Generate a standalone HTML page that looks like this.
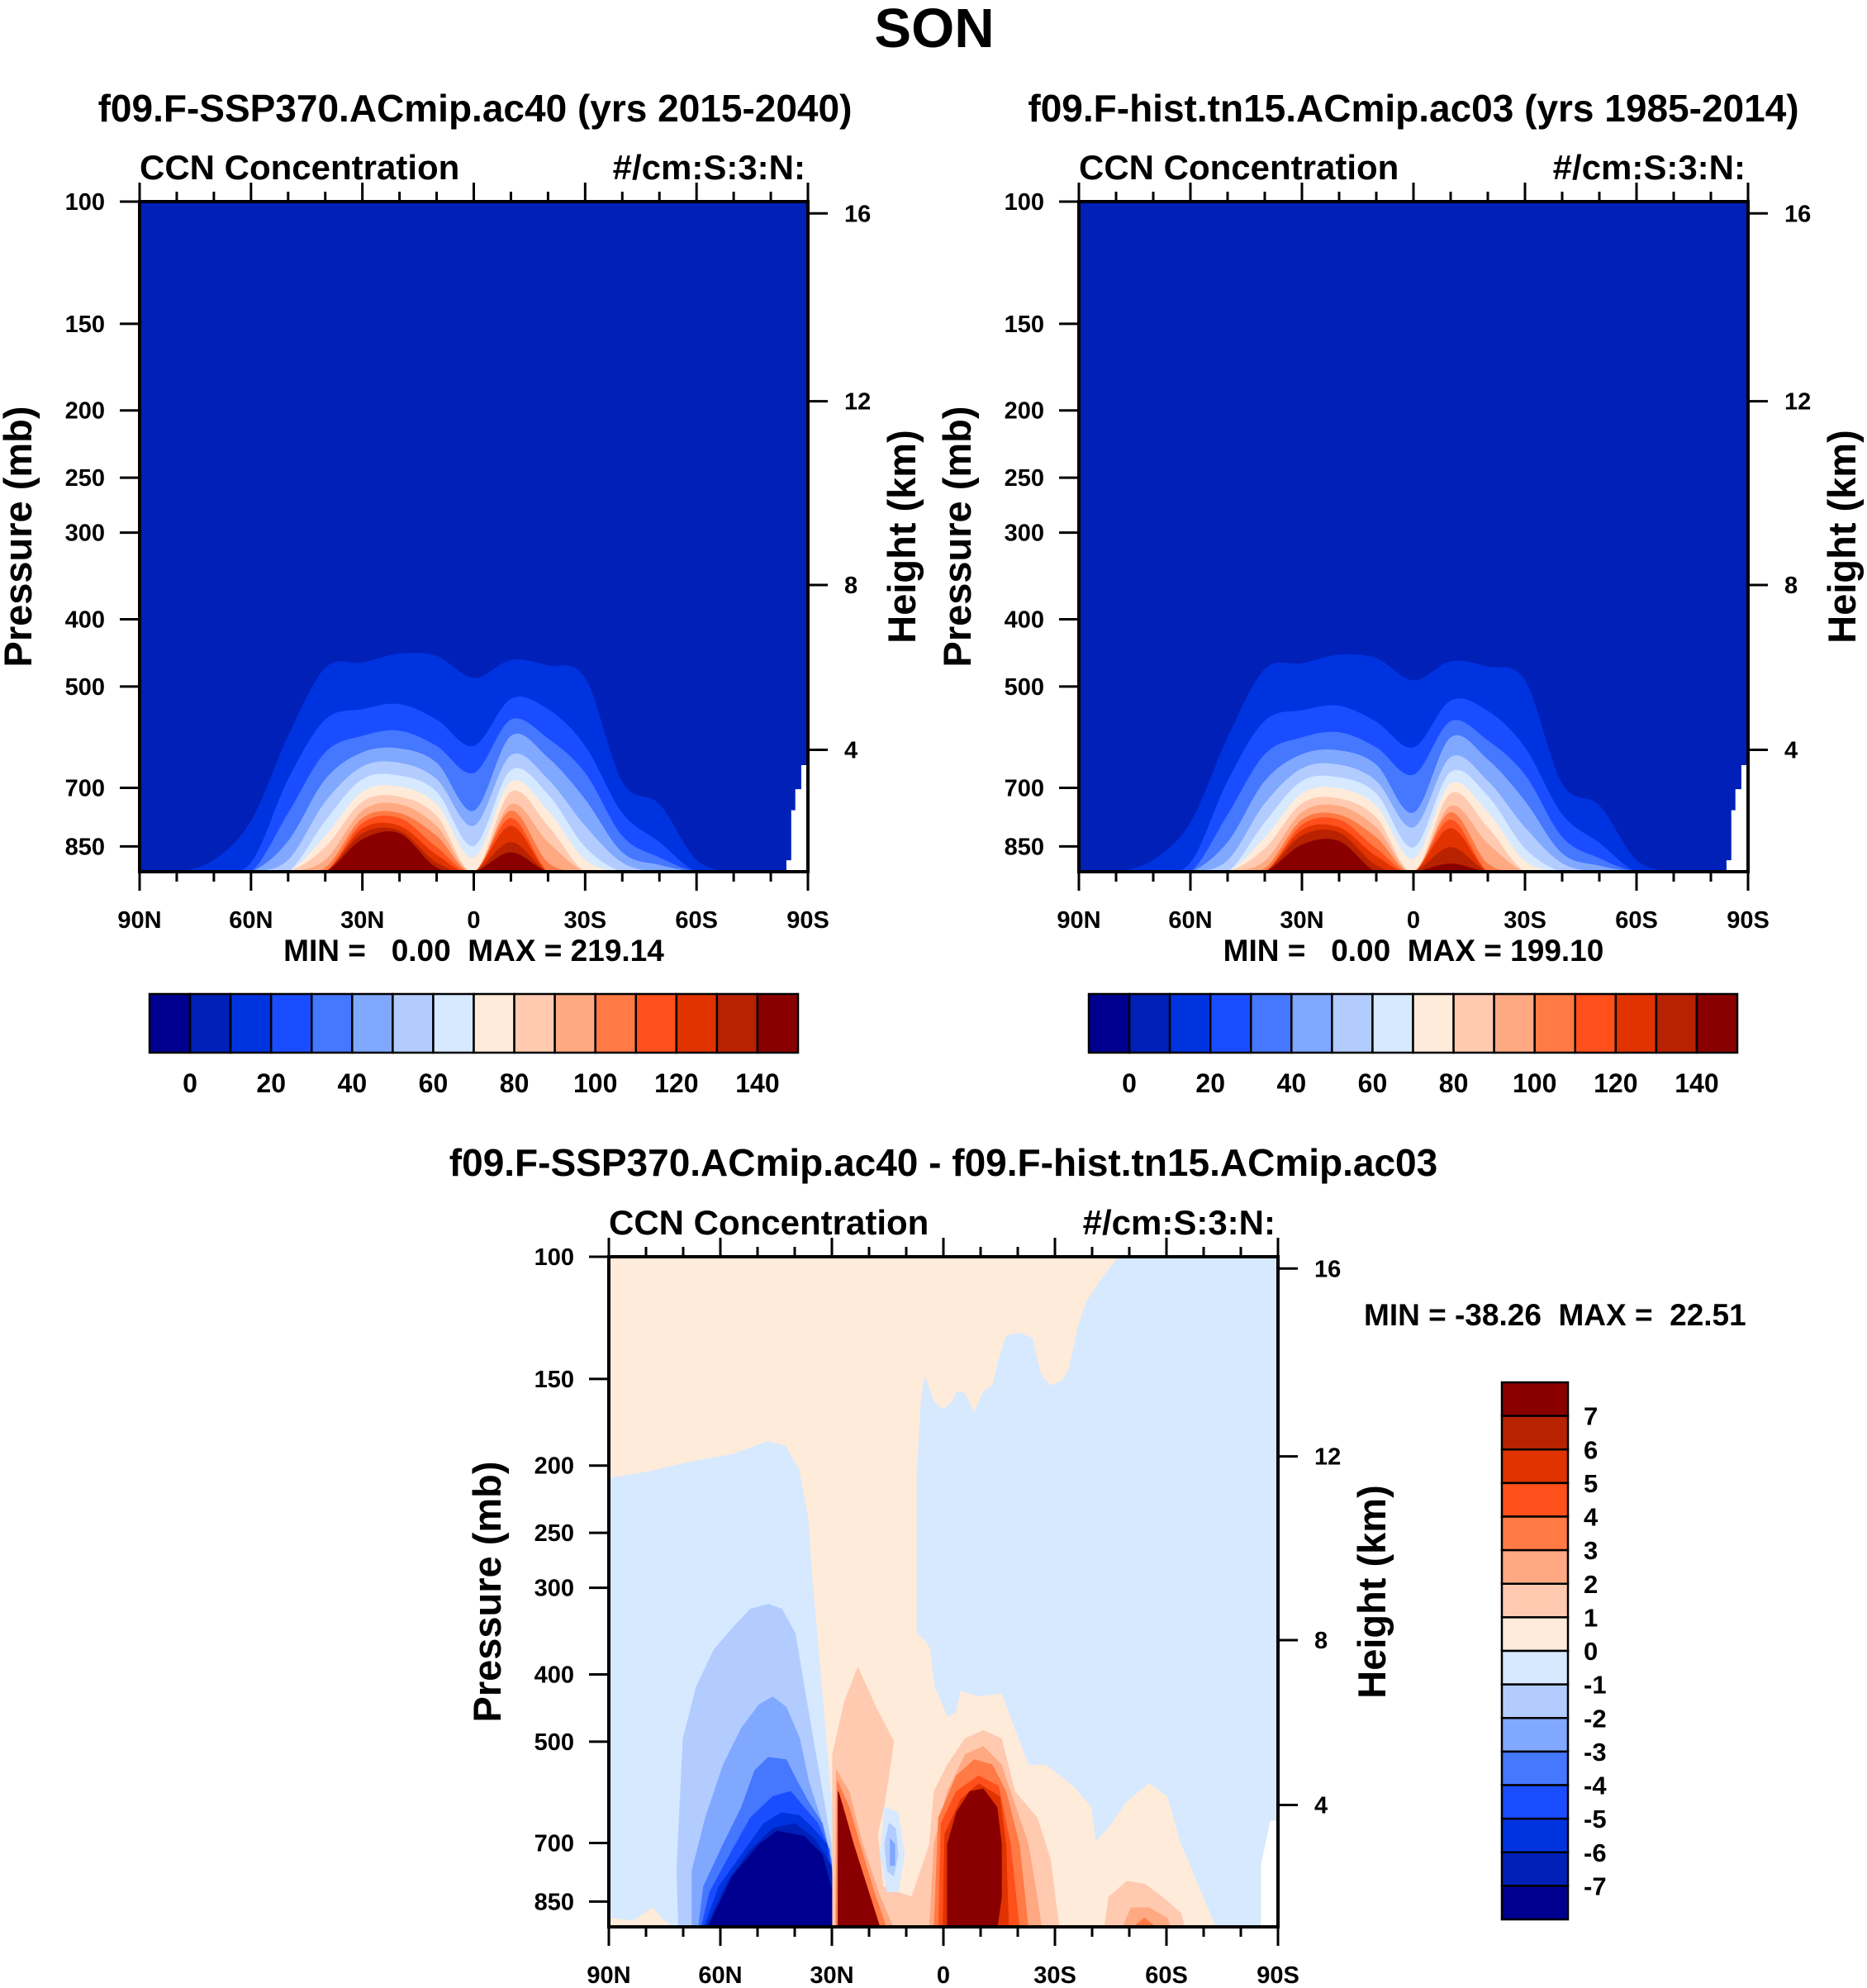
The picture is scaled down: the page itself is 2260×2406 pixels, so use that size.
<!DOCTYPE html>
<html><head><meta charset="utf-8"><style>
html,body{margin:0;padding:0;background:#fff;}
svg text{font-family:"Liberation Sans",sans-serif;font-weight:bold;fill:#000;white-space:pre;}
</style></head><body>
<svg id="fig" width="2260" height="2401" viewBox="0 0 2260 2401" xmlns="http://www.w3.org/2000/svg">
<text x="1131" y="57" font-size="67" text-anchor="middle">SON</text>
<text x="575" y="147" font-size="46" text-anchor="middle">f09.F-SSP370.ACmip.ac40 (yrs 2015-2040)</text>
<text x="1711" y="147" font-size="46" text-anchor="middle">f09.F-hist.tn15.ACmip.ac03 (yrs 1985-2014)</text>
<text x="1142" y="1423" font-size="46" text-anchor="middle">f09.F-SSP370.ACmip.ac40 - f09.F-hist.tn15.ACmip.ac03</text>
<g id="layer"></g>
</svg>
<script>
const NS="http://www.w3.org/2000/svg";
const N=925;
const latGrid=[90,80,70,60,50,40,30,20,10,0,-10,-20,-30,-40,-50,-60,-70,-80,-90];
const pTicks=[100,150,200,250,300,400,500,700,850];
const zTicks=[4,8,12,16];
const zTickP=[617,357,194,104];
const latTicks=[90,60,30,0,-30,-60,-90];
const latTickLabels=["90N","60N","30N","0","30S","60S","90S"];
const absColors=["#000090","#0020b8","#0033e0","#1a4dff","#4577ff","#80a8ff","#b3ccff","#d6e9ff","#ffebd9","#ffcab0","#ffa983","#ff7a45","#ff4f1a","#e03300","#b82200","#8a0000"];
const absLabels=["0","20","40","60","80","100","120","140"];
const diffLabels=["7","6","5","4","3","2","1","0","-1","-2","-3","-4","-5","-6","-7"];
const lev1=[
[N,N,889,781,589,470,462,448,452,486,458,466,486,686,739,889,N,N,N],
[N,N,N,897,680,558,539,530,558,609,521,539,609,761,838,N,N,N,N],
[N,N,N,N,761,622,589,579,609,666,558,594,666,821,882,N,N,N,N],
[N,N,N,N,835,680,622,614,644,755,589,633,727,867,904,N,N,N,N],
[N,N,N,N,889,733,652,644,680,794,628,680,794,897,N,N,N,N,N],
[N,N,N,N,N,781,680,672,709,849,660,715,852,N,N,N,N,N,N],
[N,N,N,N,N,821,709,697,739,882,686,755,889,N,N,N,N,N,N],
[N,N,N,N,N,852,733,721,768,N,709,794,N,N,N,N,N,N,N],
[N,N,N,N,N,889,755,739,794,N,739,838,N,N,N,N,N,N,N],
[N,N,N,N,N,912,774,761,821,N,755,897,N,N,N,N,N,N,N],
[N,N,N,N,N,N,787,774,852,N,774,N,N,N,N,N,N,N,N],
[N,N,N,N,N,N,801,794,874,N,794,N,N,N,N,N,N,N,N],
[N,N,N,N,N,N,814,807,897,N,838,N,N,N,N,N,N,N,N],
[N,N,N,N,N,N,830,814,912,N,867,N,N,N,N,N,N,N,N]];
const lev2=[
[N,N,889,785,592,472,463,450,455,490,460,468,490,690,742,889,N,N,N],
[N,N,N,897,684,560,541,533,562,612,524,542,612,764,840,N,N,N,N],
[N,N,N,N,765,626,592,582,612,670,561,598,670,824,884,N,N,N,N],
[N,N,N,N,838,684,626,618,648,760,592,637,731,870,906,N,N,N,N],
[N,N,N,N,890,737,656,648,684,798,632,684,798,899,N,N,N,N,N],
[N,N,N,N,N,785,684,676,713,853,664,719,856,N,N,N,N,N,N],
[N,N,N,N,N,825,713,701,743,885,690,759,892,N,N,N,N,N,N],
[N,N,N,N,N,856,737,725,772,N,713,798,N,N,N,N,N,N,N],
[N,N,N,N,N,892,759,743,798,N,743,842,N,N,N,N,N,N,N],
[N,N,N,N,N,914,778,765,825,N,759,900,N,N,N,N,N,N,N],
[N,N,N,N,N,N,791,778,856,N,778,N,N,N,N,N,N,N,N],
[N,N,N,N,N,N,805,798,878,N,800,N,N,N,N,N,N,N,N],
[N,N,N,N,N,N,820,812,905,N,852,N,N,N,N,N,N,N,N],
[N,N,N,N,N,N,845,835,N,N,900,N,N,N,N,N,N,N,N]];
const missingPoly=[[-84.2,930],[-84.2,890],[-85.5,890],[-85.5,754],[-86.6,754],[-86.6,703],[-88.2,703],[-88.2,649],[-90,649],[-90,930]];
const diffRegions=[
[8,[[90,100],[-46.9,100],[-43.3,105.9],[-38.4,115.7],[-36,126.3],[-33.6,145.3],[-31.9,150.4],[-28.8,153.1],[-26.4,147.8],[-24,130.7],[-20.4,128.5],[-16.8,129.6],[-14.4,142.7],[-13.1,153.1],[-10.7,155.8],[-8.3,167.1],[-5.9,157.2],[-3.5,155.8],[-2.3,161.4],[0.1,165.7],[2.5,161.4],[4.9,147.8],[6.1,158.5],[7.3,206.2],[7.3,348.8],[4.9,358.1],[3.7,367.6],[2.5,415.6],[-1.1,461.8],[-3.5,453.6],[-4.7,423.1],[-9.5,430.6],[-15.6,426.8],[-18,461.8],[-22.8,540.5],[-27.6,540.5],[-34.8,579.9],[-39.7,622],[-40.9,697],[-44.5,667],[-49.3,611],[-55.3,575],[-60.1,600],[-63.8,703],[-68.6,809],[-72.2,898],[-73.4,930],[28.3,930],[29,703],[30.2,590],[31.4,495],[32.6,415.6],[33.8,348.8],[35.1,292.7],[36.3,237.2],[38.7,202.6],[42.3,187.3],[47.1,184.1],[56.7,192.2],[66.4,196.3],[80.8,204.4],[90,208]]],
[8,[[90,930],[90,898],[83.3,907],[78.4,868],[76,898],[72.4,930]]],
[6,[[71.2,930],[71.7,767],[70,495],[66.4,416],[61.6,368],[56.7,343],[51.9,322],[47.1,317],[43.5,322],[39.9,349],[37.5,416],[35.1,495],[32.6,590],[30.2,703],[28.8,930]]],
[5,[[67.6,930],[67.6,767],[64,644],[59.2,540],[54.3,478],[49.5,442],[45.9,431],[42.3,446],[38.7,495],[36.3,570],[33.1,644],[30.7,741],[28.8,930]]],
[4,[[65.9,930],[64.5,809],[59.2,703],[54.3,622],[50.7,550],[47.1,527],[42.3,531],[39.4,570],[36.3,611],[32.6,656],[30.2,741],[28.8,930]]],
[3,[[65.2,930],[62.8,823],[56.7,716],[51.9,644],[45.9,600],[41.1,590],[37.5,622],[33.8,656],[30.7,716],[28.8,930]]],
[2,[[64.5,930],[60.4,809],[54.3,728],[48.3,656],[43.5,633],[38.7,639],[35.1,667],[31.4,703],[29,930]]],
[1,[[64,930],[58,795],[51.9,716],[45.9,667],[39.9,656],[34.6,691],[30.2,754],[29,930]]],
[0,[[63.5,930],[56.7,781],[49.5,703],[44.7,673],[37.5,685],[32.6,728],[29.5,838],[29,930]]],
[9,[[29.8,930],[29.8,522],[26.6,438],[23,391],[18.2,446],[13.4,500],[15.8,611],[17.7,679],[16.3,809],[8.5,838],[3.7,703],[2.5,590],[-1.1,540],[-5.9,495],[-10.7,482],[-15.6,495],[-19.2,590],[-25.2,644],[-28.8,741],[-30,838],[-31.2,930]]],
[10,[[29,930],[28.8,550],[25.4,590],[21.8,703],[17,838],[13.4,930]]],
[10,[[3.7,930],[2.5,703],[-1.1,590],[-5.9,522],[-10.7,508],[-15.6,540],[-18,590],[-22.8,703],[-25.2,838],[-26.4,930]]],
[11,[[2.5,930],[1.3,644],[-3.5,560],[-8.3,531],[-13.1,540],[-16.8,590],[-20.4,703],[-22.8,930]]],
[12,[[1.3,930],[0.6,656],[-3.5,590],[-9.5,560],[-14.8,580],[-18,703],[-20.4,930]]],
[13,[[0.1,930],[-0.4,679],[-4.7,606],[-9.5,575],[-15.1,600],[-16.8,703],[-17.5,930]]],
[15,[[-1.1,930],[-1.1,703],[-3.5,633],[-7.1,590],[-10.7,585],[-14.4,622],[-15.6,703],[-15.6,838],[-14.4,930]]],
[11,[[28.8,930],[28.5,570],[25.4,622],[22.5,703],[18.7,823],[15.3,930]]],
[15,[[28.3,930],[28.3,590],[26.6,633],[24.2,703],[20.6,809],[17,930]]],
[7,[[15.8,622],[12.2,633],[10.5,728],[12.2,823],[15.1,823],[17,728]]],
[6,[[14.6,656],[12.9,667],[12.2,728],[13.4,781],[15.1,767],[15.8,703]]],
[5,[[14.3,691],[13.1,703],[13.1,754],[14.3,754]]],
[9,[[-43.3,930],[-44.5,838],[-49.3,795],[-54.1,802],[-58.9,838],[-63.8,883],[-65,930]]],
[10,[[-48.1,930],[-50.5,868],[-55.3,868],[-60.1,898],[-61.3,930]]],
[11,[[-50.5,930],[-54.1,898],[-57.7,930]]]];
const diffMissing=[[-85.4,930],[-85.4,754],[-86.6,703],[-87.9,650],[-90,650],[-90,930]];

const layer=document.getElementById('layer');
function mk(tag,attrs,parent){const e=document.createElementNS(NS,tag);for(const k in attrs)e.setAttribute(k,attrs[k]);(parent||layer).appendChild(e);return e;}
const PB=924.6;
function axes(g){
  return {x:lat=>g.x0+(90-lat)/180*(g.x1-g.x0),
          y:p=>g.y0+(Math.log10(p)-2)/(Math.log10(PB)-2)*(g.y1-g.y0)};
}
function smoothTop(ax,arr){
  const pts=latGrid.map((l,i)=>[ax.x(l),ax.y(arr[i])]);
  let d="M"+pts[0][0]+","+pts[0][1];
  for(let i=0;i<pts.length-1;i++){
    const p0=pts[Math.max(0,i-1)],p1=pts[i],p2=pts[i+1],p3=pts[Math.min(pts.length-1,i+2)];
    const c1=[p1[0]+(p2[0]-p0[0])/6,p1[1]+(p2[1]-p0[1])/6];
    const c2=[p2[0]-(p3[0]-p1[0])/6,p2[1]-(p3[1]-p1[1])/6];
    d+=" C"+c1[0]+","+c1[1]+" "+c2[0]+","+c2[1]+" "+p2[0]+","+p2[1];
  }
  d+=" L"+pts[pts.length-1][0]+","+(ax.y(PB)+20)+" L"+pts[0][0]+","+(ax.y(PB)+20)+" Z";
  return d;
}
function polyD(ax,pts){return "M"+pts.map(q=>ax.x(q[0])+","+ax.y(q[1])).join(" L")+" Z";}

function frame(g,name,clipId,fillFn){
  const ax=axes(g);
  const defs=mk('defs',{});
  const cp=mk('clipPath',{id:clipId},defs);
  mk('rect',{x:g.x0,y:g.y0,width:g.x1-g.x0,height:g.y1-g.y0},cp);
  const grp=mk('g',{'clip-path':'url(#'+clipId+')'});
  
  
  fillFn(ax,grp);
  const border=mk('rect',{x:g.x0,y:g.y0,width:g.x1-g.x0,height:g.y1-g.y0,fill:'none',stroke:'#000','stroke-width':4});
  
  
  for(let lat=90;lat>=-90;lat-=10){
    const x=ax.x(lat);const major=lat%30===0;const L=major?23:12;
    mk('line',{x1:x,x2:x,y1:g.y1,y2:g.y1+L,stroke:'#000','stroke-width':3});
    mk('line',{x1:x,x2:x,y1:g.y0,y2:g.y0-L,stroke:'#000','stroke-width':3});
  }
  latTicks.forEach((lat,i)=>{
    const t=mk('text',{x:ax.x(lat),y:g.y1+68,'font-size':29,'text-anchor':'middle'});
    t.textContent=latTickLabels[i];
    
    
  });
  pTicks.forEach(p=>{
    const y=ax.y(p);
    mk('line',{x1:g.x0-24,x2:g.x0,y1:y,y2:y,stroke:'#000','stroke-width':3});
    const t=mk('text',{x:g.x0-42,y:y+10,'font-size':29,'text-anchor':'end'});
    t.textContent=p;
    
    
  });
  zTicks.forEach((z,i)=>{
    const y=ax.y(zTickP[i]);
    mk('line',{x1:g.x1,x2:g.x1+24,y1:y,y2:y,stroke:'#000','stroke-width':3});
    const t=mk('text',{x:g.x1+44,y:y+10,'font-size':29});
    t.textContent=z;
    
    
  });
  const cx=(g.y0+g.y1)/2;
  const yl=mk('text',{x:0,y:0,'font-size':47,'text-anchor':'middle',transform:'translate('+(g.x0-131)+','+cx+') rotate(-90)'});
  yl.textContent='Pressure (mb)';
  
  
  const hl=mk('text',{x:0,y:0,'font-size':47,'text-anchor':'middle',transform:'translate('+(g.x1+130)+','+cx+') rotate(-90)'});
  hl.textContent='Height (km)';
  
  
  const l1=mk('text',{x:g.x0,y:g.y0-27,'font-size':42});
  l1.textContent='CCN Concentration';
  
  
  const l2=mk('text',{x:g.x1-3,y:g.y0-27,'font-size':42,'text-anchor':'end'});
  l2.textContent='#/cm:S:3:N:';
  
  
  return ax;
}
function absPanel(g,name,lev,minmax,cbx){
  frame(g,name,name+'-clip',(ax,grp)=>{
    const bg=mk('rect',{x:g.x0,y:g.y0,width:g.x1-g.x0,height:g.y1-g.y0,fill:absColors[1]},grp);
    
    
    lev.forEach((arr,i)=>{
      const p=mk('path',{d:smoothTop(ax,arr),fill:absColors[i+2]},grp);
      
      
    });
    const w=mk('path',{d:polyD(ax,missingPoly),fill:'#fff'},grp);
    
    
  });
  const mm=mk('text',{x:(g.x0+g.x1)/2,y:g.y1+108,'font-size':37,'text-anchor':'middle'});
  mm.textContent=minmax;
  
  
  const bw=(cbx[1]-cbx[0])/16;
  absColors.forEach((c,i)=>{
    const r=mk('rect',{x:cbx[0]+i*bw,y:1203,width:bw,height:71,fill:c,stroke:'#000','stroke-width':2.5});
    
    
  });
  absLabels.forEach((s,i)=>{
    const t=mk('text',{x:cbx[0]+(1+2*i)*bw,y:1322,'font-size':32,'text-anchor':'middle'});
    t.textContent=s;
    
    
  });
}
absPanel({x0:169,x1:978,y0:244,y1:1055},'left-panel',lev1,'MIN =   0.00  MAX = 219.14',[181,966]);
absPanel({x0:1306,x1:2116,y0:244,y1:1055},'right-panel',lev2,'MIN =   0.00  MAX = 199.10',[1318,2103]);

const g3={x0:737,x1:1547,y0:1521,y1:2332};
frame(g3,'diff-panel','diff-clip',(ax,grp)=>{
  const bg=mk('rect',{x:g3.x0,y:g3.y0,width:g3.x1-g3.x0,height:g3.y1-g3.y0,fill:absColors[7]},grp);
  
  
  diffRegions.forEach(r=>{
    const p=mk('path',{d:polyD(ax,r[1]),fill:absColors[r[0]],'stroke':absColors[r[0]],'stroke-width':1},grp);
    
    
  });
  const w=mk('path',{d:polyD(ax,diffMissing),fill:'#fff'},grp);
  
  
});
const mm3=mk('text',{x:1651,y:1604,'font-size':37});
mm3.textContent='MIN = -38.26  MAX =  22.51';


const vb={x:1818,w:80,y0:1673,y1:2323};const bh=(vb.y1-vb.y0)/16;
absColors.slice().reverse().forEach((c,i)=>{
  const r=mk('rect',{x:vb.x,y:vb.y0+i*bh,width:vb.w,height:bh,fill:c,stroke:'#000','stroke-width':2.5});
  
  
});
diffLabels.forEach((s,i)=>{
  const t=mk('text',{x:1917,y:vb.y0+(i+1)*bh+11,'font-size':31});
  t.textContent=s;
  
  
});
</script>
</body></html>
